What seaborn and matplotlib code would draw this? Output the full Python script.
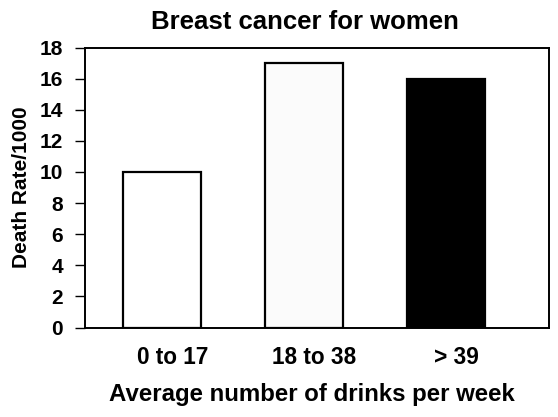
import matplotlib
matplotlib.use("Agg")
import matplotlib.pyplot as plt
import matplotlib.transforms as mtransforms
import seaborn as sns

# ------------------------------------------------------------
# Breast cancer death rate by weekly drinks
# ------------------------------------------------------------

drink_groups = ["0 to 17", "18 to 38", "> 39"]
death_rates = [10, 17, 16]
bar_colors = ["white", "#fbfbfb", "black"]
y_ticks = list(range(0, 19, 2))

sns.set_theme(style="white")
plt.rcParams["font.family"] = ["Liberation Sans", "DejaVu Sans"]
plt.rcParams["font.weight"] = "bold"

fig = plt.figure(figsize=(5.58, 4.17), dpi=100)
ax = fig.add_axes([85 / 558, 1 - 327.5 / 417, 464 / 558, 280 / 417])

sns.barplot(
    x=drink_groups,
    y=death_rates,
    hue=drink_groups,
    palette=bar_colors,
    legend=False,
    width=0.55,
    edgecolor="black",
    linewidth=1.6,
    ax=ax,
)

ax.set_xlim(-0.546, 2.725)
ax.set_ylim(0, 18)
ax.set_yticks(y_ticks)

for side in ["left", "bottom", "top", "right"]:
    ax.spines[side].set_visible(True)
    ax.spines[side].set_color("black")
    ax.spines[side].set_linewidth(1.4)

ax.tick_params(axis="y", direction="out", length=7, width=1, color="black",
               pad=9, labelsize=15, left=True)
ax.tick_params(axis="x", length=0, pad=13, labelsize=16.3)
for label in ax.get_yticklabels() + ax.get_xticklabels():
    label.set_fontweight("bold")
    label.set_color("black")

# category labels sit a little to the right of the bars in the original
offset = mtransforms.ScaledTranslation(10 / 100, 0, fig.dpi_scale_trans)
for label in ax.get_xticklabels():
    label.set_transform(label.get_transform() + offset)

ax.set_title("Breast cancer for women", fontsize=18.5, fontweight="bold",
             color="black", pad=13, x=0.475)
ax.set_xlabel("Average number of drinks per week", fontsize=17.3,
              fontweight="bold", color="black")
ax.set_ylabel("Death Rate/1000", fontsize=15, fontweight="bold",
              color="black", labelpad=6)
ax.xaxis.set_label_coords(0.49, -0.2)

fig.savefig("out.png", dpi=100, facecolor="white")
